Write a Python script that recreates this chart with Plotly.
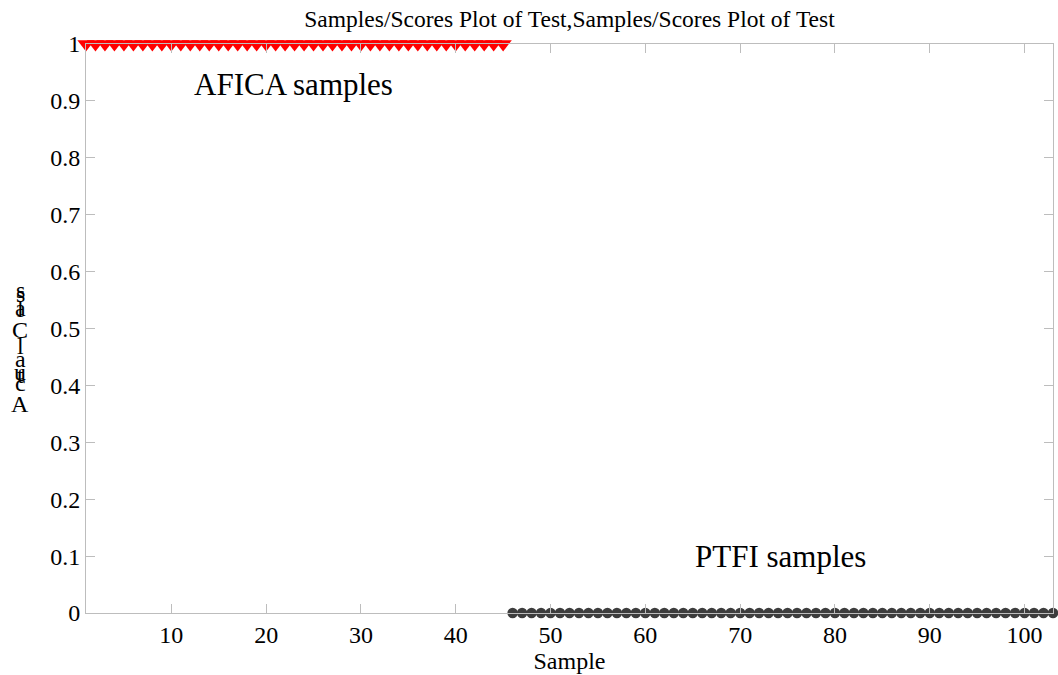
import plotly.graph_objects as go

# ---- data ----
afica_samples = list(range(1, 46))          # samples 1..45
afica_class = [1] * len(afica_samples)
ptfi_samples = list(range(46, 104))         # samples 46..103
ptfi_class = [0] * len(ptfi_samples)

x_ticks = [10, 20, 30, 40, 50, 60, 70, 80, 90, 100]
y_ticks = [0, 0.1, 0.2, 0.3, 0.4, 0.5, 0.6, 0.7, 0.8, 0.9, 1]
y_tick_labels = ["0", "0.1", "0.2", "0.3", "0.4", "0.5", "0.6", "0.7", "0.8", "0.9", "1"]

title_text = "Samples/Scores Plot of Test,Samples/Scores Plot of Test"
ylabel_chars = ["A", "c", "t", "u", "a", "l", "C", "l", "a", "s", "s"]
ylabel_centers_px = [404, 383, 375, 372, 359, 346, 330, 309, 308, 294, 290]

FONT = "Liberation Serif, Times New Roman, serif"
AXC = "#bdbdbd"

fig = go.Figure()
fig.add_trace(go.Scatter(
    x=afica_samples, y=afica_class, mode="markers",
    marker=dict(symbol="triangle-down", size=15, color="#ff0000", line=dict(width=0)),
    cliponaxis=False, showlegend=False))
fig.add_trace(go.Scatter(
    x=ptfi_samples, y=ptfi_class, mode="markers",
    marker=dict(symbol="circle", size=10.5, color="#3d3d3d", line=dict(width=0)),
    cliponaxis=False, showlegend=False))

W, H = 1058, 675
ml, mr, mt, mb = 86, 5, 44, 62

annotations = [
    dict(x=12.2, y=0.928, xref="x", yref="y", text="AFICA samples", showarrow=False,
         xanchor="left", yanchor="middle", font=dict(family=FONT, size=31, color="#000")),
    dict(x=65, y=0.1, xref="x", yref="y", text="PTFI samples", showarrow=False,
         xanchor="left", yanchor="middle", font=dict(family=FONT, size=31, color="#000")),
]
plot_h = H - mt - mb
plot_w = W - ml - mr
for ch, py in zip(ylabel_chars, ylabel_centers_px):
    annotations.append(dict(
        x=(20 - ml) / plot_w, y=(H - mb - py) / plot_h, xref="paper", yref="paper",
        text=ch, showarrow=False, xanchor="center", yanchor="middle",
        font=dict(family=FONT, size=24, color="#000")))

fig.update_layout(
    width=W, height=H,
    margin=dict(l=ml, r=mr, t=mt, b=mb),
    paper_bgcolor="white", plot_bgcolor="white",
    font=dict(family=FONT, color="#000"),
    title=dict(text=title_text, x=(ml + plot_w / 2) / W, xanchor="center",
               y=1 - 19 / H, yanchor="middle", yref="container",
               font=dict(family=FONT, size=23.5, color="#000")),
    annotations=annotations,
    xaxis=dict(range=[1, 103], tickvals=x_ticks, ticktext=[str(v) for v in x_ticks],
               showgrid=False, zeroline=False, showline=True, linecolor=AXC, linewidth=1,
               mirror="allticks", ticks="inside", ticklen=9, tickcolor=AXC, tickwidth=1,
               tickfont=dict(family=FONT, size=24, color="#000"),
               title=dict(text="Sample", standoff=0,
                          font=dict(family=FONT, size=24, color="#000"))),
    yaxis=dict(range=[0, 1], tickvals=y_ticks, ticktext=y_tick_labels,
               showgrid=False, zeroline=False, showline=True, linecolor=AXC, linewidth=1,
               mirror="allticks", ticks="inside", ticklen=9, tickcolor=AXC, tickwidth=1,
               tickfont=dict(family=FONT, size=24, color="#000")),
)

fig.write_html("out.html")
